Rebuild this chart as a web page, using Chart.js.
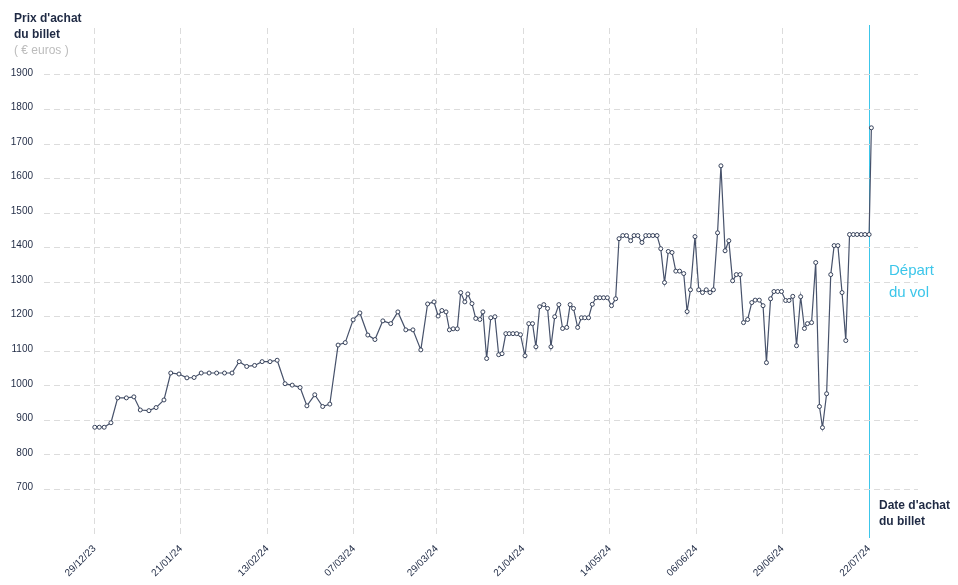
<!DOCTYPE html>
<html lang="fr">
<head>
<meta charset="utf-8">
<title>Prix d'achat du billet</title>
<script src="https://cdn.jsdelivr.net/npm/chart.js@4"></script>
<style>
  html, body { margin: 0; padding: 0; background: #fff; }
  #wrap { position: relative; width: 958px; height: 585px; font-family: "Liberation Sans", Arial, sans-serif; }
  #chart { position: absolute; left: 0; top: 0; }
  .note { position: absolute; white-space: nowrap; }
  #ytitle { left: 14px; top: 10px; font-size: 12px; line-height: 16px; font-weight: bold; color: #1f2a44; }
  #ytitle span { font-weight: normal; color: #bcbcbc; }
  #depart { left: 889px; top: 259px; font-size: 15px; line-height: 22px; color: #3cc6ea; }
  #xtitle { left: 879px; top: 497px; font-size: 12px; line-height: 16px; font-weight: bold; color: #1f2a44; }
</style>
</head>
<body>
<div id="wrap">
  <canvas id="chart" width="958" height="585"></canvas>
  <div class="note" id="ytitle">Prix d'achat<br>du billet<br><span>( € euros )</span></div>
  <div class="note" id="depart">Départ<br>du vol</div>
  <div class="note" id="xtitle">Date d'achat<br>du billet</div>
</div>
<script>
// ─── Données ─────────────────────────────────────────

// jours écoulés depuis le 29/12/23 (date d'achat)
const DAYS = [
  0.1, 1.3, 2.6, 4.4, 6.2, 8.5, 10.5, 12.2, 14.5, 16.4,
  18.5, 20.3, 22.5, 24.6, 26.5, 28.4, 30.5, 32.5, 34.6, 36.6,
  38.5, 40.5, 42.6, 44.6, 46.7, 48.6, 50.7, 52.6, 54.7, 56.5,
  58.6, 60.7, 62.6, 64.8, 66.7, 68.8, 70.6, 72.7, 74.6, 76.7,
  78.8, 80.7, 82.8, 84.7, 86.8, 88.6, 90.3, 91.4, 92.4, 93.5,
  94.4, 95.4, 96.5, 97.4, 98.5, 99.3, 100.4, 101.4, 102.5, 103.3,
  104.3, 105.4, 106.5, 107.5, 108.4, 109.4, 110.3, 111.3, 112.3, 113.3,
  114.5, 115.5, 116.5, 117.4, 118.4, 119.5, 120.5, 121.4, 122.4, 123.5,
  124.5, 125.6, 126.5, 127.4, 128.5, 129.5, 130.4, 131.4, 132.4, 133.4,
  134.4, 135.4, 136.4, 137.5, 138.6, 139.5, 140.5, 141.5, 142.6, 143.5,
  144.5, 145.6, 146.6, 147.5, 148.5, 149.6, 150.6, 151.6, 152.6, 153.6,
  154.6, 155.6, 156.7, 157.6, 158.5, 159.7, 160.7, 161.7, 162.7, 163.7,
  164.6, 165.7, 166.6, 167.7, 168.7, 169.7, 170.7, 171.7, 172.6, 173.7,
  174.8, 175.7, 176.8, 177.8, 178.7, 179.8, 180.7, 181.7, 182.7, 183.8,
  184.7, 185.7, 186.7, 187.8, 188.8, 189.6, 190.7, 191.8, 192.8, 193.6,
  194.7, 195.8, 196.7, 197.7, 198.8, 199.8, 200.8, 201.8, 202.8, 203.9,
  204.9, 206.0, 206.6
];

// prix du billet (€)
const PRICES = [
  880, 880, 880, 893, 965, 965, 968, 930, 928, 937,
  959, 1037, 1034, 1023, 1024, 1037, 1037, 1037, 1037, 1037,
  1070, 1056, 1059, 1070, 1070, 1074, 1006, 1002, 995, 942,
  974, 940, 947, 1118, 1125, 1191, 1211, 1147, 1134, 1188,
  1180, 1214, 1162, 1162, 1104, 1237, 1243, 1202, 1218, 1214,
  1162, 1165, 1165, 1270, 1243, 1266, 1238, 1195, 1192, 1214,
  1079, 1197, 1200, 1090, 1093, 1151, 1151, 1151, 1151, 1148,
  1087, 1180, 1180, 1113, 1229, 1235, 1224, 1113, 1200, 1235,
  1166, 1169, 1235, 1224, 1169, 1197, 1197, 1197, 1236, 1255,
  1255, 1255, 1255, 1232, 1252, 1426, 1435, 1435, 1420, 1435,
  1435, 1415, 1435, 1435, 1435, 1435, 1397, 1299, 1389, 1386,
  1332, 1332, 1325, 1215, 1278, 1432, 1278, 1270, 1278, 1270,
  1278, 1443, 1637, 1391, 1420, 1304, 1322, 1322, 1183, 1192,
  1241, 1248, 1248, 1232, 1067, 1252, 1273, 1273, 1273, 1247,
  1247, 1259, 1116, 1258, 1166, 1180, 1183, 1357, 940, 879,
  977, 1322, 1406, 1406, 1270, 1131, 1438, 1438, 1438, 1438,
  1438, 1438, 1747
];

const X_TICKS       = [0, 23, 46, 69, 91, 114, 137, 160, 183, 206];
const X_TICK_LABELS = ['29/12/23', '21/01/24', '13/02/24', '07/03/24', '29/03/24',
                       '21/04/24', '14/05/24', '06/06/24', '29/06/24', '22/07/24'];
const Y_TICKS       = [700, 800, 900, 1000, 1100, 1200, 1300, 1400, 1500, 1600, 1700, 1800, 1900];
const DEPART_DAY    = 206;

// ─── Graphique ─────────────────────────────────────────

const INK  = '#1f2a44';
const GRID = '#dcdcdc';
const CYAN = '#3cc6ea';
const FONT = { family: '"Liberation Sans", Arial, sans-serif', size: 10 };

// ligne verticale "Départ du vol", dessinée derrière la courbe
const departLine = {
  id: 'departLine',
  afterDatasetsDraw(chart) {
    const { ctx, chartArea, scales } = chart;
    const x = Math.round(scales.x.getPixelForValue(DEPART_DAY)) + 0.5;
    ctx.save();
    ctx.globalCompositeOperation = 'destination-over';
    ctx.strokeStyle = CYAN;
    ctx.lineWidth = 1;
    ctx.beginPath();
    ctx.moveTo(x, chartArea.top - 3);
    ctx.lineTo(x, chartArea.bottom + 3);
    ctx.stroke();
    ctx.restore();
  },
};

new Chart(document.getElementById('chart'), {
  type: 'line',
  data: {
    datasets: [{
      data: DAYS.map((d, i) => ({ x: d, y: PRICES[i] })),
      borderColor: '#47526b',
      borderWidth: 1.2,
      pointRadius: 2,
      pointBorderWidth: 1,
      pointBackgroundColor: '#fff',
      pointBorderColor: '#36415a',
      tension: 0,
    }],
  },
  options: {
    responsive: false,
    animation: false,
    layout: { padding: { top: 28, right: 40, left: 0, bottom: 0 } },
    plugins: { legend: { display: false }, tooltip: { enabled: false } },
    scales: {
      x: {
        type: 'linear',
        min: -13.4,
        max: 219,
        afterBuildTicks: s => { s.ticks = X_TICKS.map(v => ({ value: v })); },
        afterFit: s => { s.height = 50; },
        grid: {
          color: c => (c.tick && c.tick.value === DEPART_DAY ? 'rgba(0,0,0,0)' : GRID),
          drawTicks: false,
        },
        border: { display: false, dash: [6, 4] },
        ticks: {
          color: INK,
          font: FONT,
          minRotation: 45,
          maxRotation: 45,
          padding: 8,
          autoSkip: false,
          callback: (v, i) => X_TICK_LABELS[i],
        },
      },
      y: {
        min: 568,
        max: 2036,
        afterBuildTicks: s => { s.ticks = Y_TICKS.map(v => ({ value: v })); },
        afterFit: s => { s.width = 44; },
        grid: { color: GRID, drawTicks: false },
        border: { display: false, dash: [6, 4] },
        ticks: {
          color: INK,
          font: FONT,
          padding: 11,
          labelOffset: -2,
          callback: v => String(v),
        },
      },
    },
  },
  plugins: [departLine],
});
</script>
</body>
</html>
